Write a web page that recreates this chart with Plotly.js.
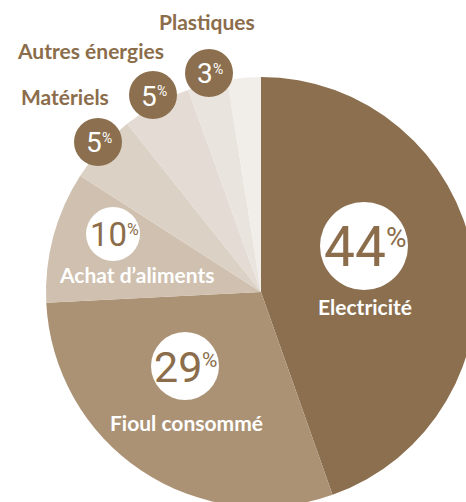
<!DOCTYPE html>
<html>
<head>
<meta charset="utf-8">
<script src="https://cdn.plot.ly/plotly-3.0.1.min.js"></script>
<style>
html, body { margin:0; padding:0; width:466px; height:502px; overflow:hidden; background:#fff; }
#chart { width:600px; height:600px; }
</style>
</head>
<body>
<div id="chart"></div>
<script>
// ---- data ----
var categories = ["Electricité", "Fioul consommé", "Achat d\u2019aliments", "Matériels", "Autres énergies", "Plastiques", "Autres"];
var values = [44.6, 29.6, 9.9, 5.2, 5.2, 3.0, 2.5];
var pctLabels = ["44", "29", "10", "5", "5", "3", ""];
var sliceColors = ["#8b6f4e", "#ab9275", "#cfc0af", "#dcd1c5", "#e4dcd4", "#eae4de", "#f1ede9"];

// ---- layout helpers ----
var W = 600, H = 600;
var CX = 261, CY = 292, R = 215;
function px(x) { return x / W; }
function py(y) { return 1 - y / H; }
var brown = "#8b6d4b";
var numFont = "'Liberation Sans Narrow', 'Roboto', sans-serif";
var lblFont = "Lato, 'Open Sans', sans-serif";

var ctx = document.createElement('canvas').getContext('2d');
function textW(t, size) {
  ctx.font = size + "px " + numFont;
  return ctx.measureText(t).width;
}

// label placement (pixel), style: 'in' = white circle inside, 'out' = brown circle with outside label
var place = [
  {cx:364, cy:246, r:44, size:55, pct:28, style:'in', name:{x:365, y:306}},
  {cx:185, cy:366, r:34, size:43, pct:21, style:'in', name:{x:186, y:422}},
  {cx:113, cy:234, r:27, size:33, pct:16, style:'in', name:{x:137, y:275}},
  {cx:98,  cy:142, r:24, size:28, pct:14, style:'out', name:{x:21, y:97}},
  {cx:153, cy:95,  r:24, size:28, pct:14, style:'out', name:{x:17, y:50}},
  {cx:209, cy:73,  r:24, size:28, pct:14, style:'out', name:{x:159, y:22}},
  null
];

var shapes = [], annotations = [];
place.forEach(function(p, i) {
  if (!p) return;
  var inside = p.style === 'in';
  shapes.push({type:'circle', xref:'paper', yref:'paper',
    x0:px(p.cx - p.r), x1:px(p.cx + p.r), y0:py(p.cy + p.r), y1:py(p.cy - p.r),
    fillcolor: inside ? "#ffffff" : "#8b6f4e", line:{width:0}});
  var numColor = inside ? brown : "#ffffff";
  var digitW = textW(pctLabels[i], p.size);
  var pctW = textW("%", p.pct);
  var left = p.cx - (digitW + pctW) / 2 + 1;
  var capH = p.size * 0.72;
  var digitTop = p.cy + 1 - capH / 2;
  annotations.push({xref:'paper', yref:'paper', x:px(left), y:py(p.cy + 1),
    text: pctLabels[i], showarrow:false, xanchor:'left', yanchor:'middle',
    borderpad:0, borderwidth:0,
    font:{family:numFont, size:p.size, color:numColor}});
  annotations.push({xref:'paper', yref:'paper', x:px(left + digitW), y:py(digitTop + p.pct * 0.36 + 0.5),
    text: "%", showarrow:false, xanchor:'left', yanchor:'middle',
    borderpad:0, borderwidth:0,
    font:{family:numFont, size:p.pct, color:numColor}});
  annotations.push({xref:'paper', yref:'paper', x:px(p.name.x), y:py(p.name.y),
    text: categories[i], showarrow:false, xanchor: inside ? 'center' : 'left', yanchor:'middle',
    borderpad:0, borderwidth:0,
    font:{family:lblFont, size:21, color: inside ? "#ffffff" : brown, weight:700}});
});

var trace = {
  type:'pie', labels:categories, values:values, sort:false, direction:'clockwise', rotation:0,
  marker:{colors:sliceColors, line:{width:0}},
  textinfo:'none', hoverinfo:'none', showlegend:false,
  domain:{x:[px(CX - R), px(CX + R)], y:[py(CY + R), py(CY - R)]}
};

var layout = {
  width:W, height:H, margin:{l:0, r:0, t:0, b:0},
  paper_bgcolor:'#ffffff', plot_bgcolor:'#ffffff',
  showlegend:false, shapes:shapes, annotations:annotations
};

Plotly.newPlot('chart', [trace], layout, {staticPlot:true, displayModeBar:false});
</script>
</body>
</html>
